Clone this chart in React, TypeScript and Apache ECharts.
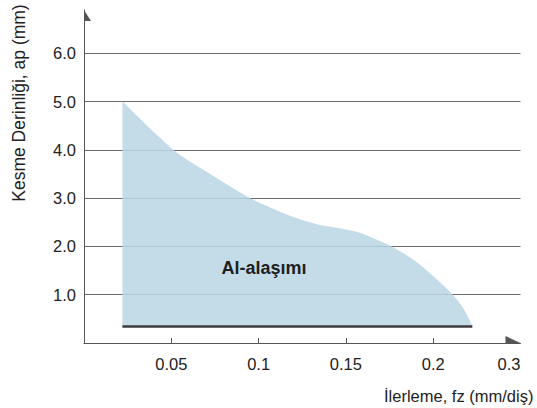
import React, { useEffect, useRef } from "react";
import * as echarts from "echarts";

// Data
const feedValues = [0.022, 0.0517, 0.072, 0.0947, 0.1117, 0.1233, 0.1348, 0.1462, 0.1577, 0.1672, 0.1758, 0.1882, 0.2, 0.211, 0.217, 0.2224];
const depthValues = [5.0, 3.98, 3.5, 3.0, 2.72, 2.56, 2.44, 2.37, 2.28, 2.14, 2.0, 1.73, 1.38, 1.0, 0.72, 0.34];
const baseDepth = 0.34;
const baseStart = 0.022;
const baseEnd = 0.2224;

const xTickValues = [0.05, 0.1, 0.15, 0.2, 0.25];
const xTickLabels = ["0.05", "0.1", "0.15", "0.2", "0.3"];
const yTickValues = [1, 2, 3, 4, 5, 6];
const yTickLabels = ["1.0", "2.0", "3.0", "4.0", "5.0", "6.0"];

const seriesName = "Al-alaşımı";
const xAxisName = "İlerleme, fz (mm/diş)";
const yAxisName = "Kesme Derinliği, ap (mm)";

const FONT = "'Liberation Sans', Arial, Helvetica, sans-serif";

export default function App() {
  const ref = useRef<HTMLDivElement>(null);

  useEffect(() => {
    if (!ref.current) return;
    const chart = echarts.init(ref.current, null, { renderer: "svg" });
    const curve = feedValues.map((x, i) => [x, depthValues[i]]);

    chart.setOption({
      animation: false,
      backgroundColor: "#ffffff",
      textStyle: { fontFamily: FONT },
      grid: { left: 84, right: 16.5, top: 10, bottom: 65, containLabel: false },
      xAxis: {
        type: "value",
        min: 0,
        max: 0.25,
        interval: 0.05,
        axisLine: {
          show: true,
          lineStyle: { color: "#555555", width: 1 },
          symbol: ["none", "path://M0,0 L-7,15 L0,15 Z M7,15 L7,15 Z"],
          symbolSize: [14, 15],
          symbolOffset: [0, -7.5],
        },
        axisTick: {
          show: true,
          inside: true,
          length: 5,
          customValues: xTickValues.slice(0, 4),
          lineStyle: { color: "#555555" },
        },
        axisLabel: {
          customValues: xTickValues,
          alignMaxLabel: "right",
          margin: 12,
          fontSize: 16.5,
          color: "#222222",
          fontFamily: FONT,
          formatter: (v: number) => {
            const i = xTickValues.findIndex((t) => Math.abs(t - v) < 1e-6);
            return i >= 0 ? xTickLabels[i] : "";
          },
        },
        splitLine: { show: false },
      },
      yAxis: {
        type: "value",
        min: 0,
        max: 6.9,
        interval: 1,
        axisLine: {
          show: true,
          lineStyle: { color: "#555555", width: 1 },
          symbol: ["none", "path://M0,0 L7,11 L0,11 Z M-7,11 L-7,11 Z"],
          symbolSize: [14, 11],
          symbolOffset: [0, -5.5],
        },
        axisTick: { show: false, customValues: yTickValues },
        axisLabel: {
          customValues: yTickValues,
          margin: 8,
          fontSize: 16.5,
          color: "#222222",
          fontFamily: FONT,
          formatter: (v: number) => {
            const i = yTickValues.findIndex((t) => Math.abs(t - v) < 1e-6);
            return i >= 0 ? yTickLabels[i] : "";
          },
        },
        splitLine: { show: true, lineStyle: { color: "#6b6b6b", width: 1 } },
      },
      graphic: [
        {
          type: "text",
          x: 19,
          y: 103,
          rotation: Math.PI / 2,
          style: {
            text: yAxisName,
            font: `17.5px ${FONT}`,
            fill: "#222222",
            align: "center",
            verticalAlign: "middle",
          },
        },
        {
          type: "text",
          x: 384,
          y: 396,
          style: {
            text: xAxisName,
            font: `16.5px ${FONT}`,
            fill: "#222222",
            align: "left",
            verticalAlign: "middle",
          },
        },
        {
          type: "text",
          x: 264,
          y: 268,
          z: 100,
          style: {
            text: seriesName,
            font: `bold 18px ${FONT}`,
            fill: "#1e1e1e",
            align: "center",
            verticalAlign: "middle",
          },
        },
      ],
      series: [
        {
          name: seriesName,
          type: "line",
          data: curve,
          smooth: 0.3,
          symbol: "none",
          lineStyle: { width: 1, color: "rgba(186,213,228,0.6)" },
          areaStyle: { color: "rgba(186,213,228,0.86)", origin: baseDepth, opacity: 1 },
          z: 2,
        },
        {
          name: "base",
          type: "line",
          data: [
            [baseStart, baseDepth],
            [baseEnd, baseDepth],
          ],
          symbol: "none",
          lineStyle: { width: 2.5, color: "#3c3c3c" },
          z: 3,
        },
      ],
    });

    return () => chart.dispose();
  }, []);

  return <div ref={ref} style={{ width: 537, height: 408, position: "absolute", left: 0, top: 0 }} />;
}
